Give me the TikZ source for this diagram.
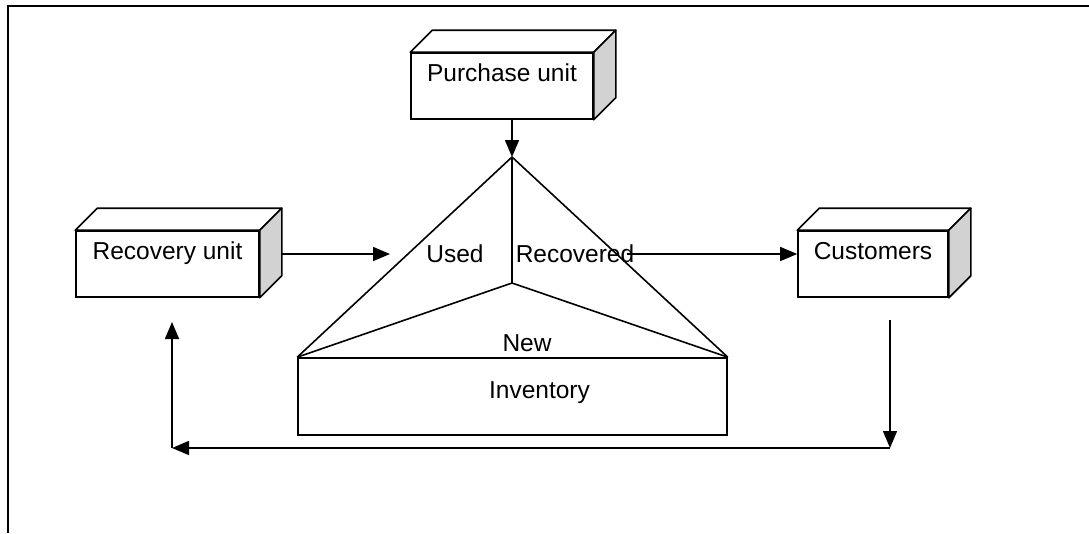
\documentclass[tikz,border=0pt]{standalone}
\usepackage{fontspec}
\setmainfont{Liberation Sans}
\usetikzlibrary{arrows.meta,calc}
\begin{document}
\begin{tikzpicture}[x=1pt,y=-1pt,
  every node/.style={font=\fontsize{24.5}{29}\selectfont},
  front/.style={draw,line width=1.6pt,fill=white,inner sep=0pt,minimum width=#1,minimum height=66pt},
  boxlbl/.style={anchor=base,yshift=-29pt},
  face/.style={draw,line width=1.6pt,line join=round},
  side/.style={face,fill=gray!35},
  edge/.style={line width=1.6pt},
  arr/.style={edge,-{Triangle[length=17pt,width=14pt]}},
  txt/.style={inner sep=0pt}
]
\useasboundingbox (0,0) rectangle (1089,533);
% frame
\draw[line width=2pt] (7.5,533) -- (7.5,5.5) -- (1089,5.5);

% 3D boxes
\node[front=182pt, label={[boxlbl]north:Purchase unit}] (pu) at (502,86) {};
\node[front=183pt, label={[boxlbl]north:Recovery unit}] (ru) at (167.5,264) {};
\node[front=150pt, label={[boxlbl]north:Customers}] (cu) at (873,264) {};
\foreach \b in {pu,ru,cu}{
  \draw[face,fill=white] (\b.north west) -- ++(22,-22) -- ($(\b.north east)+(22,-22)$) -- (\b.north east) -- cycle;
  \draw[side] (\b.north east) -- ++(22,-22) -- ($(\b.south east)+(22,-22)$) -- (\b.south east) -- cycle;
}

% inventory and triangle
\node[draw,line width=1.6pt,minimum width=429pt,minimum height=77pt,inner sep=0pt,
      label={[anchor=center,xshift=27pt,yshift=3.5pt]center:Inventory}] (inv) at (512.5,396.5) {};
\coordinate (apex) at (512,157);
\coordinate (mid) at (512,283);
\draw[face] (inv.north west) -- (apex) -- (inv.north east);
\draw[face] (inv.north west) -- (mid) -- (inv.north east);
\draw[face] (apex) -- (mid);

\node[txt] (used) at (455,254) {Used};
\node[txt] (rec) at (575,254) {Recovered};
\node[txt] (new) at (527,343) {New};

% arrows
\draw[arr] (apex |- pu.south) -- (apex);
\coordinate (usedin) at (390,254);
\draw[arr] ($(ru.east)+(21,-10)$) -- (usedin);
\coordinate (recout) at (627,254);
\draw[arr] (recout) -- (recout -| cu.west);
\coordinate (c1) at (890,320);
\coordinate (c2) at (890,448);
\coordinate (c3) at (172,448);
\coordinate (c4) at (172,322);
\draw[arr] (c1) -- (c2);
\draw[arr] (c2) -- (c3);
\draw[arr] (c3) -- (c4);
\end{tikzpicture}
\end{document}
